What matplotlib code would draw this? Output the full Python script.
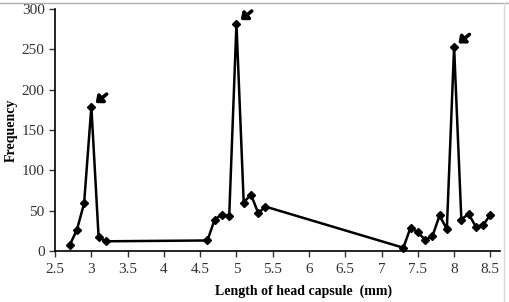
import matplotlib
matplotlib.use("Agg")
import matplotlib.pyplot as plt
from matplotlib.lines import Line2D

length_mm = [2.7, 2.8, 2.9, 3.0, 3.1, 3.2, 4.6, 4.7, 4.8, 4.9, 5.0, 5.1, 5.2, 5.3, 5.4,
             7.3, 7.4, 7.5, 7.6, 7.7, 7.8, 7.9, 8.0, 8.1, 8.2, 8.3, 8.4, 8.5]
frequency = [7, 26, 59, 179, 17, 12, 13, 39, 45, 43, 282, 60, 70, 47, 55,
             4, 29, 23, 14, 18, 44, 27, 253, 39, 46, 30, 32, 45]
peak_x = [3.0, 5.0, 8.0]
peak_y = [179, 282, 253]
x_ticks = [2.5, 3, 3.5, 4, 4.5, 5, 5.5, 6, 6.5, 7, 7.5, 8, 8.5]
x_tick_labels = ["2.5", "3", "3.5", "4", "4.5", "5", "5.5", "6", "6.5", "7", "7.5", "8", "8.5"]
y_ticks = [0, 50, 100, 150, 200, 250, 300]

plt.rcParams['font.family'] = ['Liberation Serif', 'DejaVu Serif']

fig = plt.figure(figsize=(5.1, 3.02), dpi=100)
ax = fig.add_axes([0.108, 0.169, 0.872, 0.801])
ax.plot(length_mm, frequency, color='black', lw=1.8, marker='D', markersize=4.5,
        markerfacecolor='black', markeredgecolor='black', clip_on=False)

for px, py in zip(peak_x, peak_y):
    ax.annotate('', xy=(px, py), xytext=(11, 9), textcoords='offset points',
                arrowprops=dict(arrowstyle='-|>,head_width=0.3,head_length=0.35',
                                color='black', lw=2.6, shrinkA=0, shrinkB=4))

ax.set_xlim(2.5, 8.63)
ax.set_ylim(0, 300)
ax.set_xticks(x_ticks)
ax.set_xticklabels(x_tick_labels)
ax.set_yticks(y_ticks)
ax.tick_params(axis='both', direction='out', length=4, width=1, labelsize=11, colors='#333333')
ax.tick_params(axis='x', pad=5)
for s in ['top', 'right']:
    ax.spines[s].set_visible(False)
for s in ['left', 'bottom']:
    ax.spines[s].set_linewidth(1.2)

fig.text(0.022, 0.57, 'Frequency', rotation=90, ha='center', va='center',
         fontsize=10, fontweight='bold')
fig.text(0.596, 0.035, 'Length of head capsule  (mm)', ha='center', va='center',
         fontsize=10, fontweight='bold')

fig.add_artist(Line2D([0, 1], [0.99, 0.99], transform=fig.transFigure, color='#b0b0b0', lw=1))
fig.add_artist(Line2D([0.988, 0.988], [0, 0.99], transform=fig.transFigure, color='#d8d8d8', lw=1))

fig.savefig('out.png', dpi=100)
